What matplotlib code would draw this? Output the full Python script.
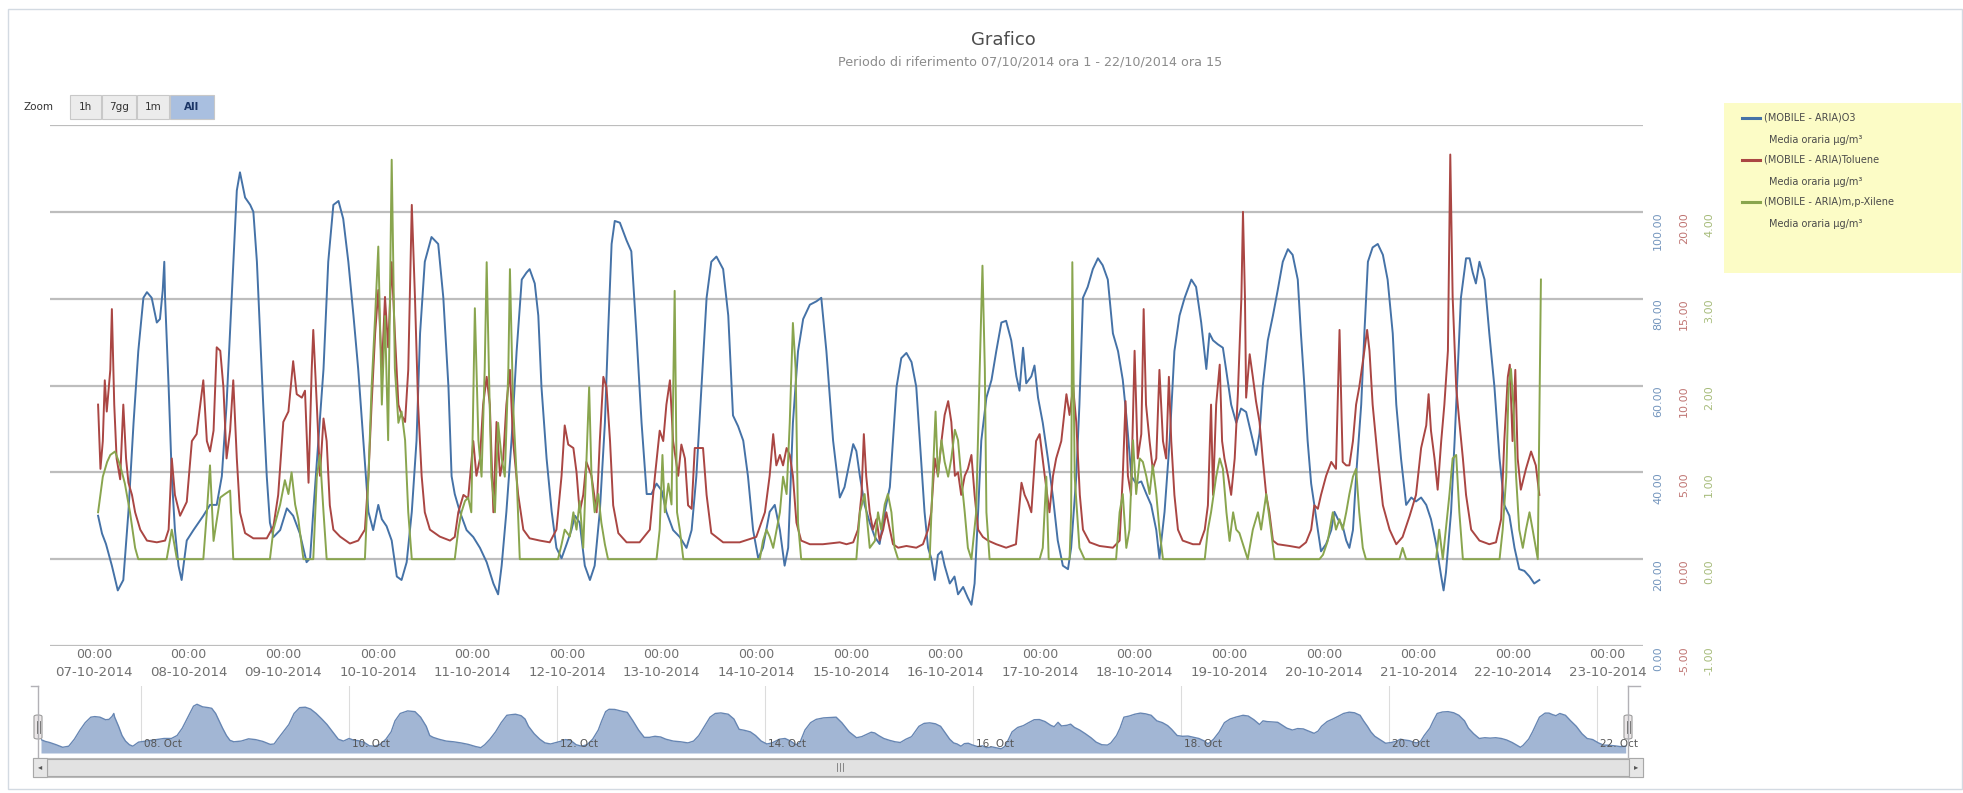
import matplotlib
matplotlib.use("Agg")
import matplotlib.pyplot as plt
from matplotlib.patches import Rectangle, FancyBboxPatch
from matplotlib.lines import Line2D
from matplotlib.transforms import blended_transform_factory

W, H = 1963, 793

# hours counted from 07-10-2014 00:00
O3_HOURS = [1, 2, 3, 4.5, 6, 7.4, 8.7, 10, 11.2, 12.5, 13.4, 14.6, 15.9, 16.7, 17.4, 17.8, 18.0, 18.9, 19.7, 20.5,
            21.4, 22.2, 23.5, 25.2, 27.7, 29.4, 31.1, 32.4, 33.6, 34.9, 36.2, 37.0, 38.3, 39.6, 40.4, 41.3, 42.1, 42.9,
            43.8, 44.6, 45.5, 47.2, 48.9, 50.5, 52.2, 53.9, 54.8, 55.6, 56.9, 58.2, 59.4, 60.7, 62.0, 63.2, 64.5, 65.8,
            67.0, 68.3, 69.6, 70.8, 72.1, 73.0, 74.2, 75.5, 76.8, 78.0, 79.3, 80.6, 81.8, 82.7, 83.9, 85.6, 87.3, 88.6,
            89.9, 90.7, 91.5, 92.8, 94.5, 96.2, 97.9, 99.6, 101.3, 102.5, 103.4, 104.6, 105.9, 107.2, 108.5, 109.7,
            110.5, 111.8, 112.7, 113.5, 114.8, 116.1, 117.3, 118.6, 119.9, 121.1, 122.0, 123.2, 124.5, 125.8, 127.0,
            128.3, 129.6, 130.4, 131.3, 132.1, 133.4, 135.1, 136.3, 137.6, 138.9, 140.2, 141.4, 142.7, 144.0, 145.2,
            146.9, 148.6, 150.3, 151.6, 152.8, 154.1, 155.4, 156.6, 157.9, 159.6, 160.9, 162.1, 163.4, 164.7, 165.9,
            167.2, 168.5, 169.7, 171.4, 172.7, 174.0, 175.2, 176.1, 177.3, 178.6, 179.9, 181.6, 183.3, 184.5, 185.8,
            187.5, 189.2, 190.4, 191.7, 192.6, 193.4, 194.3, 195.5, 196.8, 198.1, 199.3, 200.6, 201.9, 202.7, 203.6,
            204.8, 206.1, 207.4, 208.6, 209.5, 210.7, 211.6, 212.4, 213.3, 214.1, 215.0, 215.8, 217.1, 218.3, 219.2,
            220.5, 221.7, 222.6, 223.4, 224.3, 225.1, 226.4, 227.7, 228.9, 230.2, 231.4, 232.7, 234.0, 234.8, 235.7,
            236.5, 237.8, 238.6, 239.5, 240.7, 242.0, 243.3, 244.5, 245.8, 247.1, 247.9, 249.2, 250.0, 250.9, 252.1,
            253.4, 254.7, 255.9, 257.2, 258.5, 259.8, 261.0, 261.9, 263.2, 264.4, 265.7, 267.0, 268.2, 269.5, 270.3,
            271.6, 272.9, 274.1, 275.4, 276.7, 278.4, 279.6, 280.9, 282.2, 283.0, 283.9, 285.1, 286.4, 287.2, 288.5,
            289.8, 291.0, 292.3, 294.0, 294.8, 295.7, 296.5, 297.8, 299.1, 300.3, 301.6, 302.9, 304.1, 305.4, 306.2,
            307.1, 307.9, 308.8, 309.6, 310.5, 311.3, 312.6, 313.9, 314.7, 315.6, 316.8, 317.7, 318.5, 319.4, 320.2,
            321.5, 322.3, 323.2, 324.4, 325.7, 327.0, 328.2, 329.5, 330.4, 331.6, 332.9, 334.2, 335.4, 336.7, 338.0,
            339.2, 340.5, 341.8, 342.4, 343.0, 344.3, 345.2, 346.0, 346.8, 348.1, 349.0, 349.8, 350.6, 351.5, 352.8,
            354.0, 355.3, 356.6, 357.8, 359.1, 360.4, 361.6, 362.9, 364.2, 365.4, 366.7]
O3_VALUES = [30.0, 25.9, 23.5, 18.5, 12.8, 15.2, 30.9, 51.4, 67.9, 80.2, 81.5, 80.2, 74.5, 75.3, 81.9, 88.5, 80.2, 59.7,
             39.1, 26.7, 18.5, 15.2, 24.3, 26.7, 30.0, 32.5, 32.5, 39.1, 55.6, 80.2, 104.9, 109.1, 103.3, 101.6, 100.0,
             88.5, 72.0, 55.6, 39.1, 28.4, 25.1, 26.7, 31.7, 30.0, 25.9, 19.3, 20.2, 30.9, 47.3, 63.8, 88.5, 101.6,
             102.5, 98.4, 88.5, 76.1, 63.8, 47.3, 30.9, 26.7, 32.5, 29.2, 27.6, 24.3, 16.0, 15.2, 19.3, 30.9, 47.3,
             72.0, 88.5, 94.2, 92.6, 80.2, 59.7, 39.1, 35.0, 30.9, 26.7, 25.1, 22.6, 19.3, 14.4, 11.9, 18.5, 30.9, 47.3,
             67.9, 84.4, 86.0, 86.8, 83.5, 76.1, 59.7, 43.2, 30.9, 22.6, 20.2, 23.5, 26.7, 30.0, 28.4, 18.5, 15.2,
             18.5, 30.9, 51.4, 72.0, 92.6, 97.9, 97.5, 93.4, 90.9, 72.0, 51.4, 35.0, 35.0, 37.4, 35.8, 30.9, 26.7,
             25.1, 22.6, 26.7, 39.1, 59.7, 80.2, 88.5, 89.7, 86.8, 76.1, 53.1, 50.6, 47.3, 39.1, 26.7, 20.2, 22.6, 30.9,
             32.5, 26.7, 18.5, 22.6, 51.4, 67.9, 75.3, 78.6, 79.4, 80.2, 67.9, 47.3, 34.2, 36.6, 42.4, 46.5, 44.9,
             39.1, 32.5, 28.4, 25.1, 23.5, 30.9, 36.6, 47.3, 59.7, 66.3, 67.5, 65.4, 59.7, 47.3, 30.9, 22.6, 20.2,
             15.2, 21.0, 21.8, 18.5, 14.4, 16.0, 11.9, 13.6, 11.1, 9.5, 14.4, 30.9, 47.3, 57.2, 61.3, 67.9, 74.5, 74.9,
             70.4, 62.1, 58.8, 68.7, 60.5, 62.1, 64.6, 57.2, 51.4, 43.2, 34.2, 24.3, 18.5, 17.7, 22.6, 39.1, 55.6,
             80.2, 82.7, 86.8, 89.3, 87.7, 84.4, 72.0, 67.9, 61.3, 53.1, 39.1, 37.4, 37.9, 35.0, 32.5, 26.7, 20.2,
             30.9, 47.3, 67.9, 76.1, 80.2, 84.4, 82.7, 74.5, 63.8, 72.0, 70.4, 69.5, 68.7, 63.8, 55.6, 51.4, 54.7,
             53.9, 47.3, 44.0, 49.0, 59.7, 70.4, 76.1, 81.9, 88.5, 91.4, 90.1, 84.4, 72.0, 59.7, 47.3, 37.4, 32.5,
             26.7, 21.8, 23.5, 26.7, 30.9, 29.2, 27.6, 24.3, 22.6, 26.7, 39.1, 55.6, 72.0, 88.5, 91.8, 92.6, 90.1,
             84.4, 72.0, 55.6, 43.2, 32.5, 34.2, 33.3, 34.2, 32.5, 29.2, 23.5, 16.0, 12.8, 16.9, 30.9, 47.3, 63.8,
             80.2, 89.3, 89.3, 86.0, 83.5, 88.5, 84.4, 72.0, 59.7, 43.2, 32.5, 30.0, 22.6, 17.7, 17.3, 16.0, 14.4, 15.2]

TOL_HOURS = [1.0, 1.6, 2.2, 2.7, 3.2, 4.1, 4.5, 5.1, 5.7, 6.6, 7.4, 8.1, 8.7, 9.6, 10.4, 11.7, 13.4, 15.9, 18.0, 18.9,
             19.7, 20.5, 21.8, 23.5, 24.8, 26.0, 27.7, 28.6, 29.4, 30.3, 31.1, 32.0, 32.8, 33.6, 34.5, 35.3, 36.2, 37.0,
             38.3, 40.4, 43.8, 45.5, 46.7, 48.0, 49.3, 50.5, 51.4, 52.7, 53.5, 54.4, 55.2, 55.6, 56.5, 57.3, 58.2, 59.0,
             59.8, 60.7, 62.4, 64.9, 67.0, 68.7, 69.6, 70.4, 71.3, 72.1, 73.0, 73.8, 74.6, 75.5, 76.3, 77.2, 78.0, 78.9,
             79.7, 80.6, 81.4, 82.2, 83.1, 83.9, 85.2, 87.7, 90.3, 91.5, 92.4, 93.7, 94.9, 96.2, 97.0, 97.9, 98.7, 99.6,
             100.4, 101.3, 102.1, 103.0, 103.8, 104.6, 105.5, 106.3, 107.6, 108.9, 110.5, 113.1, 115.6, 117.3, 118.6,
             119.4, 120.3, 121.6, 122.4, 123.2, 124.1, 124.9, 126.2, 127.5, 128.3, 129.2, 130.0, 130.9, 131.7, 133.0,
             135.1, 138.4, 141.0, 142.3, 143.5, 144.4, 145.2, 146.1, 146.9, 148.2, 149.0, 149.9, 150.7, 151.6, 152.4,
             153.3, 154.5, 155.4, 156.6, 159.6, 163.8, 168.0, 170.2, 171.4, 172.3, 173.1, 174.0, 174.8, 175.7, 176.5,
             177.3, 178.2, 179.4, 181.6, 184.9, 189.2, 190.9, 192.6, 193.8, 194.7, 195.3, 195.9, 196.8, 197.6, 198.5,
             199.3, 200.2, 201.0, 201.9, 202.7, 204.0, 206.1, 208.6, 210.3, 211.6, 212.4, 213.3, 214.1, 215.0, 215.8,
             216.7, 217.5, 218.4, 219.2, 220.0, 220.9, 221.7, 222.6, 223.4, 224.3, 225.5, 226.8, 228.9, 231.4, 233.9,
             235.3, 236.1, 236.9, 237.8, 239.0, 239.9, 241.2, 242.4, 243.3, 244.1, 245.4, 246.7, 247.5, 248.4, 249.2,
             250.1, 250.9, 252.6, 255.1, 258.5, 260.2, 261.0, 261.7, 262.3, 263.1, 264.0, 264.8, 265.7, 266.3, 266.9,
             267.8, 268.6, 269.5, 270.3, 271.2, 272.0, 272.7, 273.3, 274.1, 275.0, 276.2, 278.8, 280.5, 281.8, 282.6,
             283.4, 283.9, 284.7, 285.6, 286.2, 286.8, 287.7, 288.5, 289.4, 290.2, 291.1, 291.5, 292.0, 292.3, 293.2,
             294.0, 294.8, 295.7, 296.5, 297.4, 298.2, 299.1, 300.3, 303.3, 305.8, 307.5, 308.8, 309.6, 310.5, 311.3,
             312.6, 313.9, 315.1, 316.0, 316.8, 317.7, 318.5, 319.4, 320.2, 321.0, 322.3, 323.0, 323.6, 324.4, 325.7,
             327.0, 328.7, 330.4, 332.0, 333.8, 335.4, 336.7, 338.0, 338.6, 339.2, 340.1, 340.9, 341.8, 342.6, 343.5,
             344.1, 344.7, 345.6, 346.4, 347.3, 348.1, 349.4, 351.5, 354.0, 355.7, 357.0, 357.8, 358.7, 359.2, 359.9,
             360.6, 361.2, 362.0, 363.3, 364.6, 365.8, 366.7]
TOL_VALUES = [8.9, 5.2, 6.8, 10.3, 8.5, 10.9, 14.4, 8.9, 5.8, 4.6, 8.9, 5.8, 4.4, 3.7, 2.7, 1.7, 1.07, 0.97, 1.07, 1.7,
              5.8, 3.7, 2.5, 3.3, 6.8, 7.2, 10.3, 6.8, 6.2, 7.4, 12.2, 12.0, 9.9, 5.8, 7.4, 10.3, 5.8, 2.7, 1.5, 1.2,
              1.2, 1.9, 3.7, 7.9, 8.5, 11.4, 9.5, 9.3, 9.7, 4.4, 10.9, 13.2, 8.9, 4.8, 8.1, 6.8, 3.1, 1.7, 1.3, 0.9,
              1.07, 1.7, 4.8, 8.9, 13.0, 15.5, 10.9, 15.1, 12.2, 17.1, 13.0, 8.9, 8.3, 7.9, 10.9, 20.4, 15.1, 8.9, 4.8,
              2.7, 1.7, 1.3, 1.07, 1.28, 2.7, 3.7, 3.5, 6.8, 4.8, 5.8, 8.9, 10.5, 8.9, 2.7, 7.9, 4.8, 5.8, 8.9, 10.9,
              6.8, 3.7, 1.7, 1.2, 1.07, 0.97, 1.7, 4.8, 7.7, 6.6, 6.4, 5.0, 2.7, 3.7, 5.6, 4.8, 2.7, 6.8, 10.5, 9.9,
              6.8, 3.1, 1.5, 0.97, 0.97, 1.7, 4.8, 7.4, 6.8, 8.9, 10.3, 6.8, 4.8, 6.6, 5.8, 3.1, 2.9, 6.4, 6.4, 6.4,
              3.7, 1.5, 0.97, 0.97, 1.28, 2.7, 4.8, 7.2, 5.4, 6.0, 5.4, 6.4, 6.0, 4.8, 2.1, 1.07, 0.86, 0.86, 0.97,
              0.86, 0.97, 1.7, 3.7, 7.2, 4.8, 2.7, 1.7, 2.3, 1.07, 1.7, 2.7, 1.7, 0.86, 0.66, 0.76, 0.66, 0.86, 1.7,
              2.7, 5.8, 4.8, 6.8, 8.3, 9.1, 7.9, 4.8, 5.0, 3.7, 4.8, 5.2, 6.0, 3.7, 1.7, 1.28, 1.07, 0.86, 0.66, 0.86,
              4.4, 3.7, 3.3, 2.7, 6.8, 7.2, 4.8, 2.7, 4.8, 5.8, 6.8, 9.5, 8.3, 9.9, 7.9, 3.7, 1.7, 0.97, 0.76, 0.66,
              1.07, 4.8, 9.1, 4.8, 3.7, 12.0, 5.8, 7.2, 14.4, 8.9, 6.8, 5.2, 5.8, 10.9, 6.8, 5.8, 10.5, 6.8, 3.7, 1.7,
              1.07, 0.86, 0.86, 1.7, 3.1, 8.9, 3.7, 8.9, 11.2, 6.8, 5.8, 4.8, 3.7, 5.8, 9.5, 15.1, 20.0, 15.1, 9.3,
              11.8, 10.5, 9.1, 7.9, 5.8, 3.7, 2.7, 1.07, 0.86, 0.76, 0.66, 0.97, 1.7, 3.1, 2.9, 3.7, 4.8, 5.6, 5.2,
              13.2, 5.6, 5.4, 5.4, 6.8, 8.9, 9.9, 12.0, 13.2, 12.0, 8.9, 5.8, 3.1, 1.7, 0.86, 1.28, 2.5, 3.7, 6.4, 7.7,
              9.5, 7.4, 5.8, 4.0, 6.8, 8.9, 12.0, 23.3, 15.1, 9.9, 7.9, 5.8, 3.7, 1.7, 1.07, 0.86, 0.97, 2.3, 6.8,
              10.5, 11.2, 6.8, 10.9, 5.8, 4.0, 5.2, 6.2, 5.4, 3.7]

XIL_HOURS = [1.0, 2.2, 3.3, 4.1, 5.3, 6.6, 7.8, 9.1, 10.4, 11.2, 18.4, 19.7, 21.0, 27.7, 28.6, 29.4, 30.3, 32.0, 33.2,
             34.5, 35.3, 44.6, 45.5, 47.2, 48.4, 49.3, 50.1, 51.0, 51.8, 53.1, 55.6, 56.5, 57.3, 58.2, 59.0, 68.7, 69.6,
             70.4, 71.3, 72.1, 73.0, 73.8, 74.6, 75.5, 76.3, 77.2, 78.0, 78.9, 79.7, 80.6, 91.5, 92.4, 93.2, 94.1, 94.9,
             95.7, 96.6, 97.5, 98.3, 99.1, 99.6, 100.2, 100.8, 101.7, 102.5, 103.4, 104.2, 105.1, 105.5, 106.3, 107.2,
             108.0, 117.7, 118.6, 119.4, 120.7, 121.6, 122.4, 123.2, 124.1, 124.9, 125.6, 126.2, 127.0, 127.9, 128.7,
             129.6, 130.4, 142.7, 143.5, 144.2, 144.8, 145.7, 146.5, 147.3, 147.9, 148.6, 149.5, 168.9, 169.7, 170.6,
             171.4, 172.3, 174.0, 174.8, 175.7, 176.5, 177.3, 178.0, 178.6, 179.4, 193.4, 194.3, 195.5, 196.8, 198.1,
             198.9, 199.7, 200.6, 201.4, 202.3, 203.1, 204.0, 212.0, 212.8, 213.5, 214.1, 215.0, 215.8, 216.7, 217.5,
             218.4, 219.2, 220.0, 220.9, 221.7, 222.6, 223.8, 224.7, 225.4, 226.0, 226.4, 227.2, 239.9, 240.7, 241.6,
             242.2, 247.5, 247.9, 248.2, 248.8, 249.4, 250.0, 251.3, 259.3, 260.2, 261.0, 261.9, 262.7, 263.6, 264.4,
             265.3, 266.1, 267.0, 267.8, 268.6, 269.5, 270.3, 271.2, 281.8, 282.6, 283.4, 284.7, 285.6, 286.4, 287.3,
             288.1, 289.0, 289.8, 290.6, 292.7, 294.0, 295.3, 296.1, 297.4, 298.6, 299.5, 310.9, 311.8, 313.0, 314.3,
             315.1, 316.0, 316.8, 317.7, 318.5, 319.4, 320.2, 321.0, 321.9, 322.7, 331.2, 332.0, 332.9, 340.5, 341.3,
             342.2, 343.9, 344.7, 345.6, 346.4, 347.3, 356.6, 357.4, 358.3, 358.9, 359.5, 360.1, 360.8, 361.6, 362.5,
             363.3, 364.2, 365.0, 366.3, 367.1]
XIL_VALUES = [0.54, 0.95, 1.12, 1.2, 1.24, 1.08, 0.87, 0.54, 0.13, 0.0, 0.0, 0.34, 0.0, 0.0, 0.54, 1.08, 0.21, 0.71,
              0.75, 0.79, 0.0, 0.0, 0.34, 0.63, 0.91, 0.75, 1.0, 0.63, 0.46, 0.0, 0.0, 0.95, 1.2, 0.54, 0.0, 0.0, 0.95,
              1.98, 2.8, 3.6, 1.78, 2.8, 1.37, 4.6, 2.2, 1.57, 1.7, 1.37, 0.54, 0.0, 0.0, 0.34, 0.54, 0.67, 0.71, 0.54,
              2.89, 1.37, 0.95, 2.19, 3.42, 2.1, 0.95, 0.54, 1.57, 1.16, 0.95, 2.19, 3.34, 1.78, 0.95, 0.0, 0.0, 0.17,
              0.34, 0.26, 0.54, 0.34, 0.67, 0.13, 1.12, 1.98, 0.95, 0.54, 0.75, 0.42, 0.17, 0.0, 0.0, 0.34, 1.2, 0.54,
              0.87, 0.63, 3.09, 0.54, 0.34, 0.0, 0.0, 0.21, 0.34, 0.26, 0.13, 0.54, 0.95, 0.75, 1.57, 2.72, 2.19, 0.42,
              0.0, 0.0, 0.54, 0.75, 0.13, 0.21, 0.54, 0.34, 0.63, 0.75, 0.54, 0.13, 0.0, 0.0, 0.95, 1.7, 0.95, 1.37,
              1.12, 0.95, 1.16, 1.49, 1.37, 0.95, 0.54, 0.13, 0.0, 0.54, 2.19, 3.38, 2.19, 0.54, 0.0, 0.0, 0.13, 0.95,
              0.0, 0.0, 0.54, 3.42, 0.95, 0.54, 0.13, 0.0, 0.0, 0.54, 0.75, 0.13, 0.34, 1.37, 0.75, 1.16, 1.12, 0.95,
              0.75, 1.08, 0.75, 0.34, 0.0, 0.0, 0.34, 0.54, 0.95, 1.16, 1.04, 0.54, 0.21, 0.54, 0.34, 0.3, 0.0, 0.34,
              0.54, 0.34, 0.75, 0.34, 0.0, 0.0, 0.05, 0.21, 0.54, 0.34, 0.46, 0.34, 0.54, 0.75, 0.95, 1.04, 0.54, 0.13,
              0.0, 0.0, 0.13, 0.0, 0.0, 0.34, 0.0, 0.75, 1.16, 1.2, 0.54, 0.0, 0.0, 0.34, 0.95, 1.98, 2.19, 1.78, 0.95,
              0.34, 0.13, 0.34, 0.54, 0.34, 0.0, 3.22]

DAY_LABELS = ["07-10-2014", "08-10-2014", "09-10-2014", "10-10-2014", "11-10-2014", "12-10-2014",
              "13-10-2014", "14-10-2014", "15-10-2014", "16-10-2014", "17-10-2014", "18-10-2014",
              "19-10-2014", "20-10-2014", "21-10-2014", "22-10-2014", "23-10-2014"]
NAV_LABELS = ["08. Oct", "10. Oct", "12. Oct", "14. Oct", "16. Oct", "18. Oct", "20. Oct", "22. Oct"]
NAV_TICK_HOURS = [24, 72, 120, 168, 216, 264, 312, 360]

O3_GRID = [0, 20, 40, 60, 80, 100, 120]
O3_TICKS = [0, 20, 40, 60, 80, 100]
TOL_TICKS = [-5, 0, 5, 10, 15, 20]
XIL_TICKS = [-1, 0, 1, 2, 3, 4]

SERIES_NAMES = ["(MOBILE - ARIA)O3", "(MOBILE - ARIA)Toluene", "(MOBILE - ARIA)m,p-Xilene"]
UNIT_LABEL = "Media oraria \u00b5g/m\u00b3"

BLUE, RED, GREEN = "#4572A7", "#AA4643", "#89A54E"


def fx(x):
    return x / W


def fy(y):
    return 1 - y / H


def box(fig, x0, y0, x1, y1, **kw):
    r = Rectangle((fx(x0), fy(y1)), (x1 - x0) / W, (y1 - y0) / H, transform=fig.transFigure, **kw)
    fig.add_artist(r)
    return r


def hline(fig, x0, x1, y, **kw):
    fig.add_artist(Line2D([fx(x0), fx(x1)], [fy(y), fy(y)], transform=fig.transFigure, **kw))


def vline(fig, x, y0, y1, **kw):
    fig.add_artist(Line2D([fx(x), fx(x)], [fy(y0), fy(y1)], transform=fig.transFigure, **kw))


fig = plt.figure(figsize=(W / 100, H / 100), dpi=100)
fig.patch.set_facecolor("white")

# outer chart border
box(fig, 8, 9, 1962, 789, fill=False, edgecolor="#d3dae2", lw=1)

fig.text(fx(1003), fy(40), "Grafico", ha="center", va="center", fontsize=13, color="#4d4d4d")
fig.text(fx(1030), fy(62), "Periodo di riferimento 07/10/2014 ora 1 - 22/10/2014 ora 15",
         ha="center", va="center", fontsize=9.2, color="#8c8c8c")

# range selector
fig.text(fx(24), fy(107), "Zoom", ha="left", va="center", fontsize=7.5, color="#333333")
buttons = [("1h", 70, 101), ("7gg", 102, 136), ("1m", 137, 169), ("All", 170, 214)]
for lab, x0, x1 in buttons:
    sel = lab == "All"
    box(fig, x0, 95, x1, 119, facecolor="#a9bfe0" if sel else "#ececec",
        edgecolor="#c8c8c8", lw=0.8)
    fig.text(fx((x0 + x1) / 2), fy(107), lab, ha="center", va="center", fontsize=7.5,
             color="#1b3566" if sel else "#333333", fontweight="bold" if sel else "normal")

# main plot
ax = fig.add_axes([fx(50), fy(646), (1643 - 50) / W, (646 - 125) / H])
ax.set_xlim(-11.2, 393)
ax.set_ylim(0, 120)
ax2 = ax.twinx()
ax2.set_ylim(-5, 25)
ax3 = ax.twinx()
ax3.set_ylim(-1, 5)
for a in (ax, ax2, ax3):
    a.axis("off")

for g in O3_GRID:
    ax.axhline(g, color="#bdbdbd", lw=1.6, zorder=0)

ax.plot(O3_HOURS, O3_VALUES, color=BLUE, lw=1.4, solid_joinstyle="round")
ax2.plot(TOL_HOURS, TOL_VALUES, color=RED, lw=1.4, solid_joinstyle="round")
ax3.plot(XIL_HOURS, XIL_VALUES, color=GREEN, lw=1.4, solid_joinstyle="round")

# opposite axis labels, rotated
for a, ticks, col, xpos in ((ax, O3_TICKS, BLUE, 1658), (ax2, TOL_TICKS, RED, 1684), (ax3, XIL_TICKS, GREEN, 1709)):
    tr = blended_transform_factory(fig.transFigure, a.transData)
    for t in ticks:
        a.text(fx(xpos), t, f"{t:.2f}", transform=tr, rotation=90, ha="center", va="top",
               fontsize=8, color=col, alpha=0.75, clip_on=False)

# x axis labels
trx = blended_transform_factory(ax.transData, fig.transFigure)
for i, lab in enumerate(DAY_LABELS):
    ax.text(24 * i, fy(655), "00:00", transform=trx, ha="center", va="center", fontsize=9, color="#707070")
    ax.text(24 * i, fy(672), lab, transform=trx, ha="center", va="center", fontsize=9.6, color="#707070")

# legend
box(fig, 1724, 103, 1961, 273, facecolor="#fcfcc6", edgecolor="none")
for i, (name, col) in enumerate(zip(SERIES_NAMES, (BLUE, RED, GREEN))):
    y = 118 + 42 * i
    hline(fig, 1742, 1760, y, color=col, lw=2.2)
    fig.text(fx(1764), fy(y), name, ha="left", va="center", fontsize=7, color="#4a4a4a")
    fig.text(fx(1769), fy(y + 22), UNIT_LABEL, ha="left", va="center", fontsize=7, color="#4a4a4a")

# navigator
nav = fig.add_axes([fx(41), fy(753), (1627 - 41) / W, (753 - 686) / H])
nav.set_xlim(1, 367)
nav.set_ylim(0, 150)
nav.axis("off")
for h in NAV_TICK_HOURS:
    nav.axvline(h, color="#dcdcdc", lw=0.8, zorder=0)
nav.fill_between(O3_HOURS, O3_VALUES, 0, color="#a2b6d4", lw=0, zorder=1)
nav.plot(O3_HOURS, O3_VALUES, color="#6786b3", lw=1, zorder=2)
trn = blended_transform_factory(nav.transData, fig.transFigure)
for h, lab in zip(NAV_TICK_HOURS, NAV_LABELS):
    nav.text(h + 0.8, fy(744), lab, transform=trn, ha="left", va="center", fontsize=7.5, color="#555555")

# navigator outline and handles
vline(fig, 38, 686, 757, color="#b2b1b6", lw=1)
hline(fig, 31, 38, 686, color="#b2b1b6", lw=1)
vline(fig, 1628, 686, 757, color="#b2b1b6", lw=1)
hline(fig, 1628, 1640, 686, color="#b2b1b6", lw=1)
for hx in (38, 1628):
    fig.add_artist(FancyBboxPatch((fx(hx - 4), fy(739)), 8 / W, 24 / H, boxstyle="round,pad=0,rounding_size=0.002",
                                  transform=fig.transFigure, facecolor="#ebe7e8", edgecolor="#9c9c9c", lw=0.8))
    vline(fig, hx - 1.5, 721, 733, color="#666666", lw=0.6)
    vline(fig, hx + 1.5, 721, 733, color="#666666", lw=0.6)

# scrollbar
box(fig, 33, 758, 1643, 777, facecolor="#eeeeee", edgecolor="#bbbbbb", lw=0.8)
box(fig, 47, 759, 1629, 776, facecolor="#e2e2e2", edgecolor="#a8a8a8", lw=0.8)
box(fig, 33, 758, 47, 777, facecolor="#e6e6e6", edgecolor="#a8a8a8", lw=0.8)
box(fig, 1629, 758, 1643, 777, facecolor="#e6e6e6", edgecolor="#a8a8a8", lw=0.8)
fig.text(fx(40), fy(767), "\u25c2", ha="center", va="center", fontsize=6, color="#555555")
fig.text(fx(1636), fy(767), "\u25b8", ha="center", va="center", fontsize=6, color="#555555")
for gx in (837, 840, 843):
    vline(fig, gx, 763, 771, color="#777777", lw=0.6)

fig.savefig("out.png", dpi=100, facecolor="white")
